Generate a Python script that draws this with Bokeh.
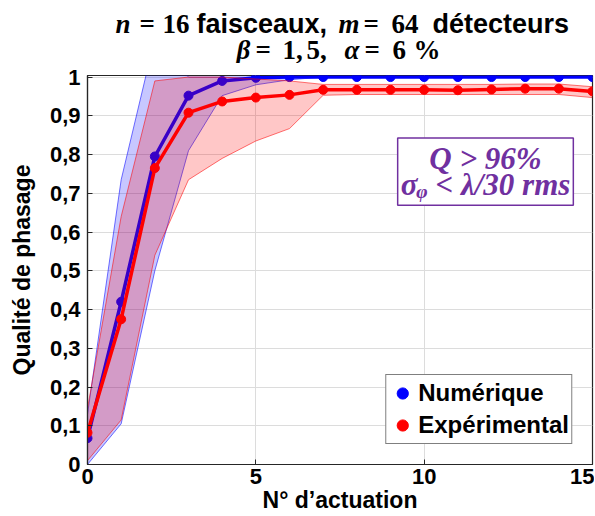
from bokeh.plotting import figure
from bokeh.layouts import column
from bokeh.models import (Legend, LegendItem, Label, FixedTicker,
                          CustomJSTickFormatter, Range1d)
from bokeh.embed import file_html
from bokeh.resources import INLINE

# ---------------- data ----------------
iterations = list(range(16))
num_mean = [0.068, 0.42, 0.795, 0.952, 0.99, 0.998, 1.0, 1.0, 1.0, 1.0, 1.0, 1.0, 1.0, 1.0, 1.0, 1.0]
num_low = [0.0, 0.105, 0.50, 0.81, 0.952, 0.98, 0.993, 1.0, 1.0, 1.0, 1.0, 1.0, 1.0, 1.0, 1.0, 1.0]
num_high = [0.13, 0.735, 1.10, 1.0, 1.0, 1.0, 1.0, 1.0, 1.0, 1.0, 1.0, 1.0, 1.0, 1.0, 1.0, 1.0]
exp_mean = [0.082, 0.375, 0.765, 0.908, 0.937, 0.947, 0.954, 0.967, 0.967, 0.967, 0.967, 0.966, 0.968, 0.970, 0.970, 0.963]
exp_low = [0.01, 0.115, 0.54, 0.735, 0.79, 0.835, 0.867, 0.953, 0.955, 0.955, 0.955, 0.955, 0.955, 0.955, 0.955, 0.947]
exp_high = [0.145, 0.64, 0.99, 1.0, 1.0, 0.995, 0.99, 0.981, 0.981, 0.981, 0.981, 0.981, 0.981, 0.982, 0.982, 0.975]

x_ticks = [0, 5, 10, 15]
y_ticks = [0.0, 0.1, 0.2, 0.3, 0.4, 0.5, 0.6, 0.7, 0.8, 0.9, 1.0]
series_names = ["Numérique", "Expérimental"]
x_label = "N° d’actuation"
y_label = "Qualité de phasage"

BLUE = "#0000ff"
RED = "#ff0000"
PURPLE = "#7030a0"
SANS = "Liberation Sans"
SERIF = "Liberation Serif"

W = 594
TITLE_H = 63
FRAME_LEFT = 87

# ---------------- title strip (its frame is aligned with the plot frame) ----------------
tf = figure(width=W, height=TITLE_H, output_backend="svg", toolbar_location=None,
            x_range=Range1d(0, 1), y_range=Range1d(0, 1),
            min_border=0, outline_line_color=None)
tf.axis.visible = False
tf.grid.visible = False


def seg(text, px, py, font, style):
    tf.add_layout(Label(x=px - FRAME_LEFT, y=TITLE_H - py,
                        x_units="screen", y_units="screen", text=text,
                        text_align="left", text_baseline="alphabetic",
                        text_font=font, text_font_style=style, text_font_size="27px",
                        text_color="black"))


L1, L2 = 23, 49
seg("n", 115, L1, SERIF, "bold italic")
seg("=", 139, L1, SERIF, "bold")
seg("16", 162, L1, SERIF, "bold")
seg("faisceaux,", 196, L1, SANS, "bold")
seg("m", 338, L1, SERIF, "bold italic")
seg("=", 363, L1, SERIF, "bold")
seg("64", 391, L1, SERIF, "bold")
seg("détecteurs", 432, L1, SANS, "bold")
seg("β", 236, L2, SERIF, "bold italic")
seg("=", 255, L2, SERIF, "bold")
seg("1,", 282, L2, SERIF, "bold")
seg("5,", 306, L2, SERIF, "bold")
seg("α", 344, L2, SERIF, "bold italic")
seg("=", 364, L2, SERIF, "bold")
seg("6", 392, L2, SERIF, "bold")
seg("%", 413, L2, SERIF, "bold")

# ---------------- main plot ----------------
p = figure(width=W, height=515 - TITLE_H, output_backend="svg", toolbar_location=None,
           x_range=Range1d(0, 15), y_range=Range1d(0, 1.004),
           min_border_left=FRAME_LEFT, min_border_top=12, min_border_right=2, min_border_bottom=0,
           background_fill_color="white", border_fill_color="white")
p.outline_line_color = "#262626"
p.outline_line_width = 1.2

p.xgrid.ticker = FixedTicker(ticks=x_ticks)
p.ygrid.ticker = FixedTicker(ticks=y_ticks)
p.grid.grid_line_color = "#dcdcdc"
p.grid.grid_line_width = 1

fmt = CustomJSTickFormatter(code="return (Math.round(tick*10)/10).toString().replace('.', ',');")

for ax in (p.xaxis[0], p.yaxis[0]):
    ax.axis_line_color = "#262626"
    ax.axis_line_width = 1.2
    ax.major_tick_in = 5
    ax.major_tick_out = 0
    ax.minor_tick_line_color = None
    ax.major_tick_line_color = "#262626"
    ax.major_label_text_font = SANS
    ax.major_label_text_font_style = "bold"
    ax.major_label_text_font_size = "22px"
    ax.major_label_text_color = "black"
    ax.axis_label_text_font = SANS
    ax.axis_label_text_font_style = "bold"
    ax.axis_label_text_font_size = "23px"
    ax.axis_label_text_color = "black"

p.xaxis.ticker = FixedTicker(ticks=x_ticks)
p.yaxis.ticker = FixedTicker(ticks=y_ticks)
p.yaxis.formatter = fmt
p.xaxis.axis_label = x_label
p.yaxis.axis_label = y_label
p.xaxis.major_label_standoff = 4
p.xaxis.axis_label_standoff = 0
p.yaxis.major_label_standoff = 7
p.yaxis.axis_label_standoff = 12

# bands & lines
p.varea(x=iterations, y1=num_low, y2=num_high, fill_color=BLUE, fill_alpha=0.22)
p.line(iterations, num_low, line_color=BLUE, line_width=1, line_alpha=0.55)
p.line(iterations, num_high, line_color=BLUE, line_width=1, line_alpha=0.55)
p.line(iterations, num_mean, line_color=BLUE, line_width=3.5, line_join="round")
num_pts = p.scatter(iterations, num_mean, size=9, fill_color=BLUE, line_color=BLUE)

p.varea(x=iterations, y1=exp_low, y2=exp_high, fill_color=RED, fill_alpha=0.22)
p.line(iterations, exp_low, line_color=RED, line_width=1, line_alpha=0.55)
p.line(iterations, exp_high, line_color=RED, line_width=1, line_alpha=0.55)
p.line(iterations, exp_mean, line_color=RED, line_width=3.5, line_join="round")
exp_pts = p.scatter(iterations, exp_mean, size=9, fill_color=RED, line_color=RED)

legend = Legend(items=[LegendItem(label=series_names[0], renderers=[num_pts]),
                       LegendItem(label=series_names[1], renderers=[exp_pts])],
                location="bottom_right")
legend.label_text_font = SANS
legend.label_text_font_style = "bold"
legend.label_text_font_size = "24px"
legend.label_text_color = "black"
legend.border_line_color = "black"
legend.border_line_width = 1
legend.background_fill_alpha = 1
legend.padding = 2
legend.spacing = 0
legend.margin = 20
legend.glyph_width = 28
legend.glyph_height = 32
legend.label_standoff = 2
legend.label_height = 28
p.add_layout(legend, "center")

box = Label(x=398, y=293, x_units="screen", y_units="screen",
            text="Q > 96%\nσᵩ < λ/30 rms", text_align="center", text_baseline="middle",
            text_font=SERIF, text_font_style="bold italic", text_font_size="31px",
            text_color=PURPLE, text_line_height=0.75,
            border_line_color=PURPLE, border_line_width=1.5,
            background_fill_color="white", padding=3)
p.add_layout(box)

layout = column(tf, p, spacing=0)
open("out.html", "w").write(file_html(layout, INLINE))
